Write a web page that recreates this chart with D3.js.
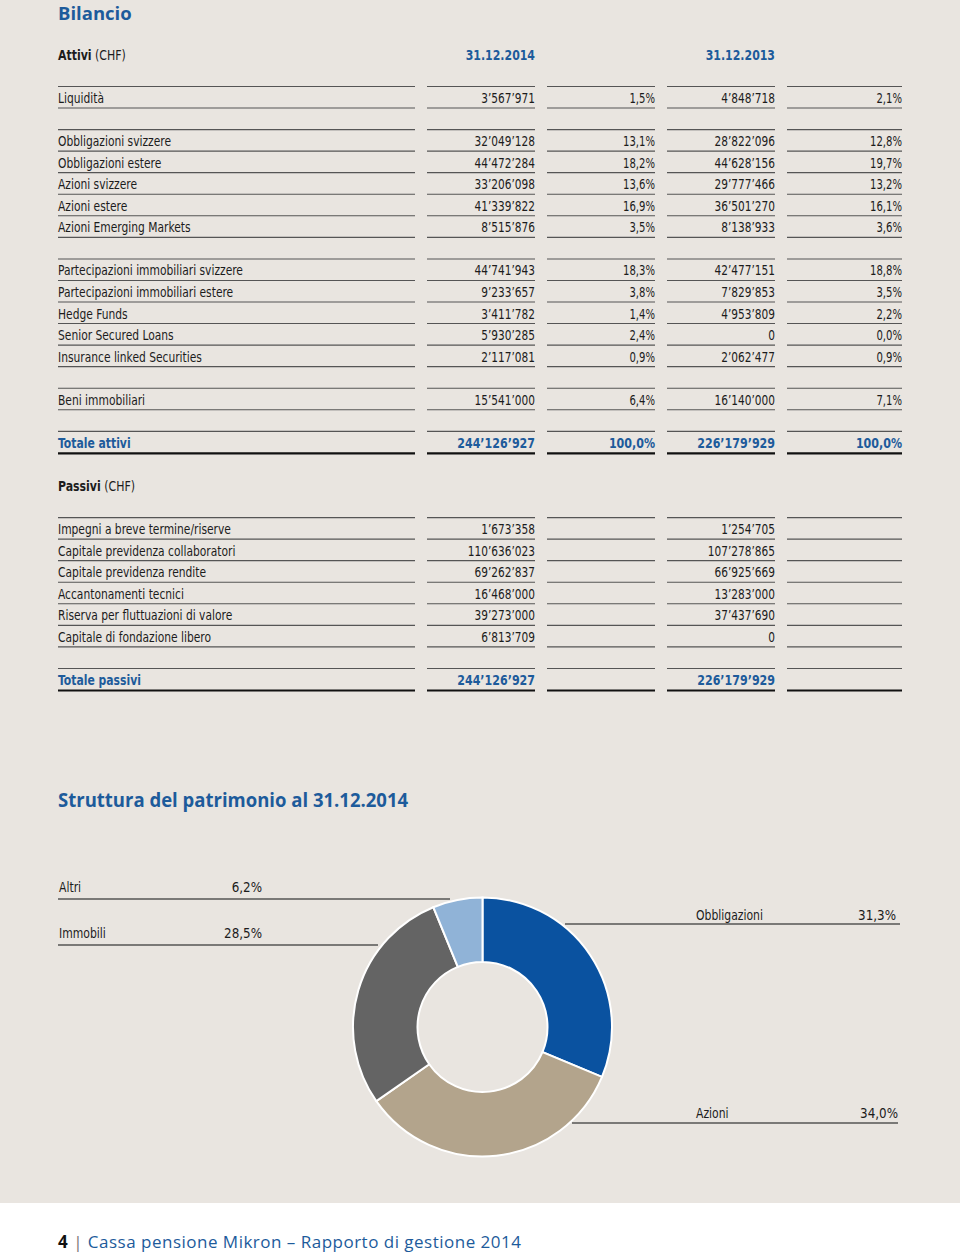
<!DOCTYPE html>
<html><head><meta charset="utf-8">
<script src="https://cdn.jsdelivr.net/npm/d3@7"></script>
<style>
html,body{margin:0;padding:0;background:#fff;}
svg{display:block;}
</style></head>
<body>
<script>
// ---------- DATA ----------
const title = "Bilancio";
const attiviHeader = ["Attivi", " (CHF)"];
const passiviHeader = ["Passivi", " (CHF)"];
const dateHeaders = ["31.12.2014", "31.12.2013"];

// rows: [label, value2014, pct2014, value2013, pct2013]
const attiviGroups = [
  [["Liquidità", "3’567’971", "1,5%", "4’848’718", "2,1%"]],
  [["Obbligazioni svizzere", "32’049’128", "13,1%", "28’822’096", "12,8%"],
   ["Obbligazioni estere", "44’472’284", "18,2%", "44’628’156", "19,7%"],
   ["Azioni svizzere", "33’206’098", "13,6%", "29’777’466", "13,2%"],
   ["Azioni estere", "41’339’822", "16,9%", "36’501’270", "16,1%"],
   ["Azioni Emerging Markets", "8’515’876", "3,5%", "8’138’933", "3,6%"]],
  [["Partecipazioni immobiliari svizzere", "44’741’943", "18,3%", "42’477’151", "18,8%"],
   ["Partecipazioni immobiliari estere", "9’233’657", "3,8%", "7’829’853", "3,5%"],
   ["Hedge Funds", "3’411’782", "1,4%", "4’953’809", "2,2%"],
   ["Senior Secured Loans", "5’930’285", "2,4%", "0", "0,0%"],
   ["Insurance linked Securities", "2’117’081", "0,9%", "2’062’477", "0,9%"]],
  [["Beni immobiliari", "15’541’000", "6,4%", "16’140’000", "7,1%"]]
];
const attiviTotal = ["Totale attivi", "244’126’927", "100,0%", "226’179’929", "100,0%"];

const passiviGroups = [
  [["Impegni a breve termine/riserve", "1’673’358", "", "1’254’705", ""],
   ["Capitale previdenza collaboratori", "110’636’023", "", "107’278’865", ""],
   ["Capitale previdenza rendite", "69’262’837", "", "66’925’669", ""],
   ["Accantonamenti tecnici", "16’468’000", "", "13’283’000", ""],
   ["Riserva per fluttuazioni di valore", "39’273’000", "", "37’437’690", ""],
   ["Capitale di fondazione libero", "6’813’709", "", "0", ""]]
];
const passiviTotal = ["Totale passivi", "244’126’927", "", "226’179’929", ""];

const pieTitle = "Struttura del patrimonio al 31.12.2014";
const pieCategories = ["Obbligazioni", "Azioni", "Immobili", "Altri"];
const pieValues = [31.3, 34.0, 28.5, 6.2];
const pieLabels = ["31,3%", "34,0%", "28,5%", "6,2%"];
const footerParts = ["4", " | ", "Cassa pensione Mikron – Rapporto di gestione 2014"];

// ---------- STYLE ----------
const W = 960, H = 1258;
const BG = "#e9e5e0";
const BLUE = "#1d5b9b";
const TXT = "#1c1c1c";
const LINE = "#555";
const COND = "'DejaVu Sans Condensed','Liberation Sans Narrow',sans-serif";
const BOLD = "'Open Sans','Noto Sans',sans-serif";
const pieColors = ["#0a52a0", "#b3a48c", "#646464", "#90b3d7"];
const FS = 14;

const svg = d3.select("body").append("svg").attr("width", W).attr("height", H);
svg.append("rect").attr("width", W).attr("height", 1203).attr("fill", BG);

function txt(parent, x, yy, s, o = {}) {
  const t = parent.append("text")
    .attr("transform", `translate(${x},${yy}) scale(${o.sx || 1},1)`)
    .attr("text-anchor", o.anchor || "start")
    .attr("font-family", o.family || COND)
    .attr("font-size", o.size || FS)
    .attr("font-weight", o.bold ? 700 : 400)
    .attr("fill", o.color || TXT);
  if (s !== null) t.text(s);
  return t;
}

// title
txt(svg, 58, 19.5, title, {family: BOLD, bold: true, size: 18.5, color: BLUE, sx: 1.0});

// row scale: slot index -> y center
const y = d3.scaleLinear().domain([0, 27]).range([98, 680]);

const cols = [
  {x0: 58, x1: 415, align: "start"},
  {x0: 427, x1: 535, align: "end"},
  {x0: 547, x1: 655, align: "end"},
  {x0: 667, x1: 775, align: "end"},
  {x0: 787, x1: 902, align: "end"}
];

const g = svg.append("g");

function header(parts, slot) {
  const t = txt(g, 58, y(slot) + 5, null, {sx: 0.87});
  t.append("tspan").attr("font-weight", 700).text(parts[0]);
  t.append("tspan").text(parts[1]);
}
header(attiviHeader, -2);
dateHeaders.forEach((d, i) => {
  txt(g, cols[i * 2 + 1].x1, y(-2) + 5, d, {anchor: "end", bold: true, color: BLUE, sx: 0.87});
});

function drawGroup(rows, startSlot, isTotal) {
  cols.forEach(c => {
    g.append("line").attr("x1", c.x0).attr("x2", c.x1)
      .attr("y1", y(startSlot) - 11.5).attr("y2", y(startSlot) - 11.5)
      .attr("stroke", LINE).attr("stroke-width", 1.1);
  });
  rows.forEach((r, i) => {
    const yc = y(startSlot + i);
    r.forEach((v, j) => {
      const c = cols[j];
      const sx = isTotal ? (j === 0 ? 0.86 : 0.88) : (j === 0 ? 0.85 : (j % 2 ? 0.84 : 0.8));
      txt(g, c.align === "start" ? c.x0 : c.x1, yc + 5, v,
        {anchor: c.align, bold: isTotal, color: isTotal ? BLUE : TXT, sx});
      const ly = yc + (isTotal ? 10.5 : 10);
      g.append("line").attr("x1", c.x0).attr("x2", c.x1)
        .attr("y1", ly).attr("y2", ly)
        .attr("stroke", isTotal ? "#111" : LINE).attr("stroke-width", isTotal ? 2.2 : 1.1);
    });
  });
}

let slot = 0;
attiviGroups.forEach(gr => { drawGroup(gr, slot, false); slot += gr.length + 1; });
drawGroup([attiviTotal], slot, true);
slot += 2;
header(passiviHeader, slot);
slot += 2;
passiviGroups.forEach(gr => { drawGroup(gr, slot, false); slot += gr.length + 1; });
drawGroup([passiviTotal], slot, true);

// ---------- DONUT ----------
txt(svg, 58, 807, pieTitle, {family: BOLD, bold: true, size: 19, color: BLUE, sx: 0.975});

const cx = 482.5, cy = 1027, rOut = 129.5, rIn = 65;
const pie = d3.pie().sort(null).value(d => d)(pieValues);
const arc = d3.arc().innerRadius(rIn).outerRadius(rOut);
const pg = svg.append("g").attr("transform", `translate(${cx},${cy})`);
pg.selectAll("path").data(pie).join("path")
  .attr("d", arc).attr("fill", (d, i) => pieColors[i])
  .attr("stroke", "#fff").attr("stroke-width", 2);

// labels with leader lines (layout)
const labelLayout = [
  {x0: 696, x1: 896, lx0: 565, lx1: 900, ty: 920, ly: 924},   // Obbligazioni
  {x0: 696, x1: 898, lx0: 572, lx1: 898, ty: 1118, ly: 1123}, // Azioni
  {x0: 59, x1: 262, lx0: 58, lx1: 378, ty: 938, ly: 945},     // Immobili
  {x0: 59, x1: 262, lx0: 58, lx1: 450, ty: 892, ly: 899}      // Altri
];
pieCategories.forEach((c, i) => {
  const L = labelLayout[i];
  txt(svg, L.x0, L.ty, c, {sx: 0.86});
  txt(svg, L.x1, L.ty, pieLabels[i], {anchor: "end", sx: 0.95});
  svg.append("line").attr("x1", L.lx0).attr("x2", L.lx1).attr("y1", L.ly).attr("y2", L.ly)
    .attr("stroke", LINE).attr("stroke-width", 1.3);
});

// ---------- FOOTER ----------
const ft = svg.append("text").attr("x", 58).attr("y", 1248)
  .attr("font-family", BOLD).attr("font-size", 17)
  .attr("textLength", 463).attr("lengthAdjust", "spacing");
ft.append("tspan").attr("font-weight", 700).attr("fill", "#111").text(footerParts[0]);
ft.append("tspan").attr("fill", "#777").text(footerParts[1]);
ft.append("tspan").attr("fill", BLUE).text(footerParts[2]);
</script>
</body></html>
